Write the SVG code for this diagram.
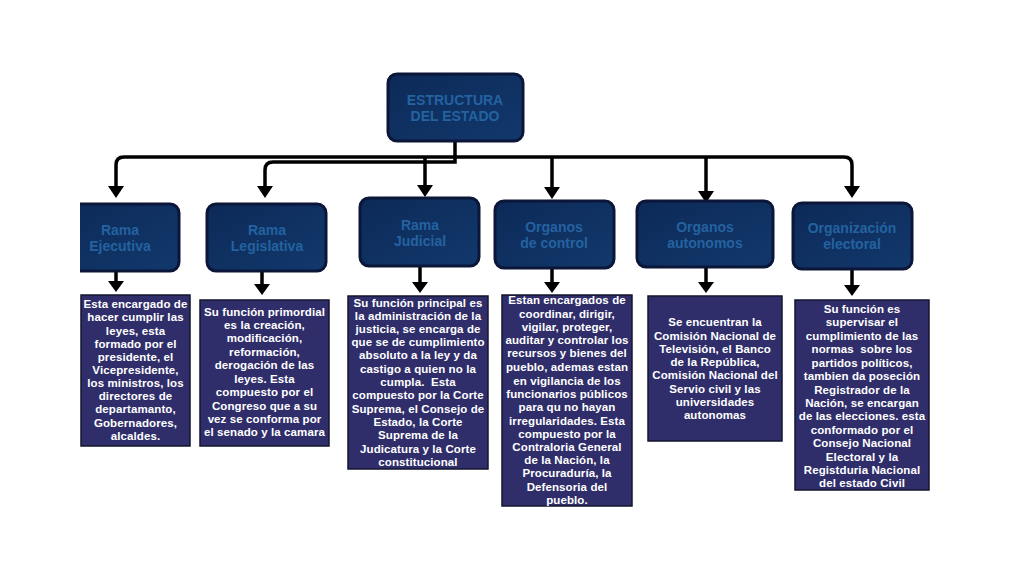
<svg xmlns="http://www.w3.org/2000/svg" width="1024" height="576" viewBox="0 0 1024 576">
<style>
.hdr{stroke:#0b1638;stroke-width:3;fill:url(#hg)}
.ht{font-family:"Liberation Sans",Arial,sans-serif;font-weight:bold;font-size:14px;fill:#2462a0;text-anchor:middle}
.box{fill:#2f2e6b;stroke:#15152e;stroke-width:1.5}
.bt{font-family:"Liberation Sans",Arial,sans-serif;font-weight:bold;font-size:11.5px;letter-spacing:0.1px;fill:#ffffff;text-anchor:middle}
.con{fill:none;stroke:#000;stroke-width:3.5}
</style>
<defs>
<linearGradient id="hg" x1="0" y1="0" x2="1" y2="1">
<stop offset="0" stop-color="#0c2a58"/>
<stop offset="1" stop-color="#12386c"/>
</linearGradient>
<clipPath id="cl"><rect x="80" y="0" width="200" height="576"/></clipPath>
</defs>
<rect width="1024" height="576" fill="#fff"/>

<g id="connectors">
<path class="con" d="M455,142 V157"/>
<path class="con" d="M455,157 H124 Q116,157 116,165 V186"/>
<path class="con" d="M455,157 H844 Q852,157 852,165 V186"/>
<path class="con" d="M455,157 V162 H273 Q265,162 265,170 V186"/>
<path class="con" d="M425,157 V186"/>
<path class="con" d="M552,157 V188"/>
<path class="con" d="M706,157 V192"/>
<g fill="#000">
<path d="M108,186 L124,186 L116,198 Z"/>
<path d="M257,186 L273,186 L265,198 Z"/>
<path d="M417,185 L433,185 L425,197 Z"/>
<path d="M544,187 L560,187 L552,199 Z"/>
<path d="M698,191 L714,191 L706,203 Z"/>
<path d="M844,186 L860,186 L852,198 Z"/>
</g>
<path class="con" d="M116,272 V282"/>
<path class="con" d="M262,272 V285"/>
<path class="con" d="M420,267 V283"/>
<path class="con" d="M552,269 V283"/>
<path class="con" d="M706,268 V283"/>
<path class="con" d="M852,270 V286"/>
<g fill="#000">
<path d="M108,281 L124,281 L116,292 Z"/>
<path d="M254,284 L270,284 L262,295 Z"/>
<path d="M412,282 L428,282 L420,293 Z"/>
<path d="M544,282 L560,282 L552,293 Z"/>
<path d="M698,282 L714,282 L706,293 Z"/>
<path d="M844,285 L860,285 L852,296 Z"/>
</g>
</g>

<g id="top">
<rect class="hdr" x="388" y="74" width="135" height="67" rx="9"/>
<text class="ht" x="455" y="105">ESTRUCTURA</text>
<text class="ht" x="455" y="121">DEL ESTADO</text>
</g>

<g id="ejecutiva">
<rect class="hdr" x="58" y="204" width="121" height="67" rx="9" clip-path="url(#cl)"/>
<text class="ht" x="120" y="235">Rama</text>
<text class="ht" x="120" y="251">Ejecutiva</text>
</g>
<g id="legislativa">
<rect class="hdr" x="207" y="204" width="119" height="67" rx="9"/>
<text class="ht" x="267" y="235">Rama</text>
<text class="ht" x="267" y="251">Legislativa</text>
</g>
<g id="judicial">
<rect class="hdr" x="360" y="198" width="119" height="68" rx="9"/>
<text class="ht" x="420" y="230">Rama</text>
<text class="ht" x="420" y="246">Judicial</text>
</g>
<g id="control">
<rect class="hdr" x="495" y="201" width="119" height="67" rx="9"/>
<text class="ht" x="554" y="232">Organos</text>
<text class="ht" x="554" y="248">de control</text>
</g>
<g id="autonomos">
<rect class="hdr" x="637" y="201" width="136" height="66" rx="9"/>
<text class="ht" x="705" y="232">Organos</text>
<text class="ht" x="705" y="248">autonomos</text>
</g>
<g id="electoral">
<rect class="hdr" x="793" y="203" width="119" height="66" rx="9"/>
<text class="ht" x="852" y="233">Organización</text>
<text class="ht" x="852" y="249">electoral</text>
</g>

<g id="t1">
<rect class="box" x="81" y="295" width="109" height="151"/>
<text class="bt" x="135.5" y="308">Esta encargado de</text>
<text class="bt" x="135.5" y="321">hacer cumplir las</text>
<text class="bt" x="135.5" y="334.5">leyes, esta</text>
<text class="bt" x="135.5" y="347.5">formado por el</text>
<text class="bt" x="135.5" y="361">presidente, el</text>
<text class="bt" x="135.5" y="374">Vicepresidente,</text>
<text class="bt" x="135.5" y="387">los ministros, los</text>
<text class="bt" x="135.5" y="400">directores de</text>
<text class="bt" x="135.5" y="413">departamanto,</text>
<text class="bt" x="135.5" y="427">Gobernadores,</text>
<text class="bt" x="135.5" y="440">alcaldes.</text>
</g>
<g id="t2">
<rect class="box" x="200" y="300" width="129" height="146"/>
<text class="bt" x="264.5" y="316">Su función primordial</text>
<text class="bt" x="264.5" y="329">es la creación,</text>
<text class="bt" x="264.5" y="342">modificación,</text>
<text class="bt" x="264.5" y="356">reformación,</text>
<text class="bt" x="264.5" y="369">derogación de las</text>
<text class="bt" x="264.5" y="383">leyes. Esta</text>
<text class="bt" x="264.5" y="396">compuesto por el</text>
<text class="bt" x="264.5" y="410">Congreso que a su</text>
<text class="bt" x="264.5" y="423">vez se conforma por</text>
<text class="bt" x="264.5" y="436">el senado y la camara</text>
</g>
<g id="t3">
<rect class="box" x="348" y="296" width="140" height="173"/>
<text class="bt" x="418" y="307">Su función principal es</text>
<text class="bt" x="418" y="320">la administración de la</text>
<text class="bt" x="418" y="333">justicia, se encarga de</text>
<text class="bt" x="418" y="346">que se de cumplimiento</text>
<text class="bt" x="418" y="359">absoluto a la ley y da</text>
<text class="bt" x="418" y="373">castigo a quien no la</text>
<text class="bt" x="418" y="386" xml:space="preserve">cumpla.  Esta</text>
<text class="bt" x="418" y="399">compuesto por la Corte</text>
<text class="bt" x="418" y="413">Suprema, el Consejo de</text>
<text class="bt" x="418" y="426">Estado, la Corte</text>
<text class="bt" x="418" y="439">Suprema de la</text>
<text class="bt" x="418" y="453">Judicatura y la Corte</text>
<text class="bt" x="418" y="466">constitucional</text>
</g>
<g id="t4">
<rect class="box" x="502" y="295" width="130" height="211"/>
<text class="bt" x="567" y="304">Estan encargados de</text>
<text class="bt" x="567" y="318">coordinar, dirigir,</text>
<text class="bt" x="567" y="331">vigilar, proteger,</text>
<text class="bt" x="567" y="344">auditar y controlar los</text>
<text class="bt" x="567" y="357">recursos y bienes del</text>
<text class="bt" x="567" y="371">pueblo, ademas estan</text>
<text class="bt" x="567" y="385">en vigilancia de los</text>
<text class="bt" x="567" y="398">funcionarios públicos</text>
<text class="bt" x="567" y="411">para qu no hayan</text>
<text class="bt" x="567" y="425">irregularidades. Esta</text>
<text class="bt" x="567" y="438">compuesto por la</text>
<text class="bt" x="567" y="451">Contraloria General</text>
<text class="bt" x="567" y="464">de la Nación, la</text>
<text class="bt" x="567" y="477">Procuraduría, la</text>
<text class="bt" x="567" y="491">Defensoria del</text>
<text class="bt" x="567" y="504">pueblo.</text>
</g>
<g id="t5">
<rect class="box" x="648" y="296" width="134" height="145"/>
<text class="bt" x="715" y="326">Se encuentran la</text>
<text class="bt" x="715" y="340">Comisión Nacional de</text>
<text class="bt" x="715" y="353">Televisión, el Banco</text>
<text class="bt" x="715" y="366">de la República,</text>
<text class="bt" x="715" y="379">Comisión Nacional del</text>
<text class="bt" x="715" y="393">Servio civil y las</text>
<text class="bt" x="715" y="406">universidades</text>
<text class="bt" x="715" y="419">autonomas</text>
</g>
<g id="t6">
<rect class="box" x="795" y="300" width="134" height="190"/>
<text class="bt" x="862" y="313">Su función es</text>
<text class="bt" x="862" y="326">supervisar el</text>
<text class="bt" x="862" y="340">cumplimiento de las</text>
<text class="bt" x="862" y="353" xml:space="preserve">normas  sobre los</text>
<text class="bt" x="862" y="367">partidos políticos,</text>
<text class="bt" x="862" y="380">tambien da poseción</text>
<text class="bt" x="862" y="394">Registrador de la</text>
<text class="bt" x="862" y="407">Nación, se encargan</text>
<text class="bt" x="862" y="420">de las elecciones. esta</text>
<text class="bt" x="862" y="434">conformado por el</text>
<text class="bt" x="862" y="447">Consejo Nacional</text>
<text class="bt" x="862" y="461">Electoral y la</text>
<text class="bt" x="862" y="474">Registduria Nacional</text>
<text class="bt" x="862" y="487">del estado Civil</text>
</g>
</svg>
